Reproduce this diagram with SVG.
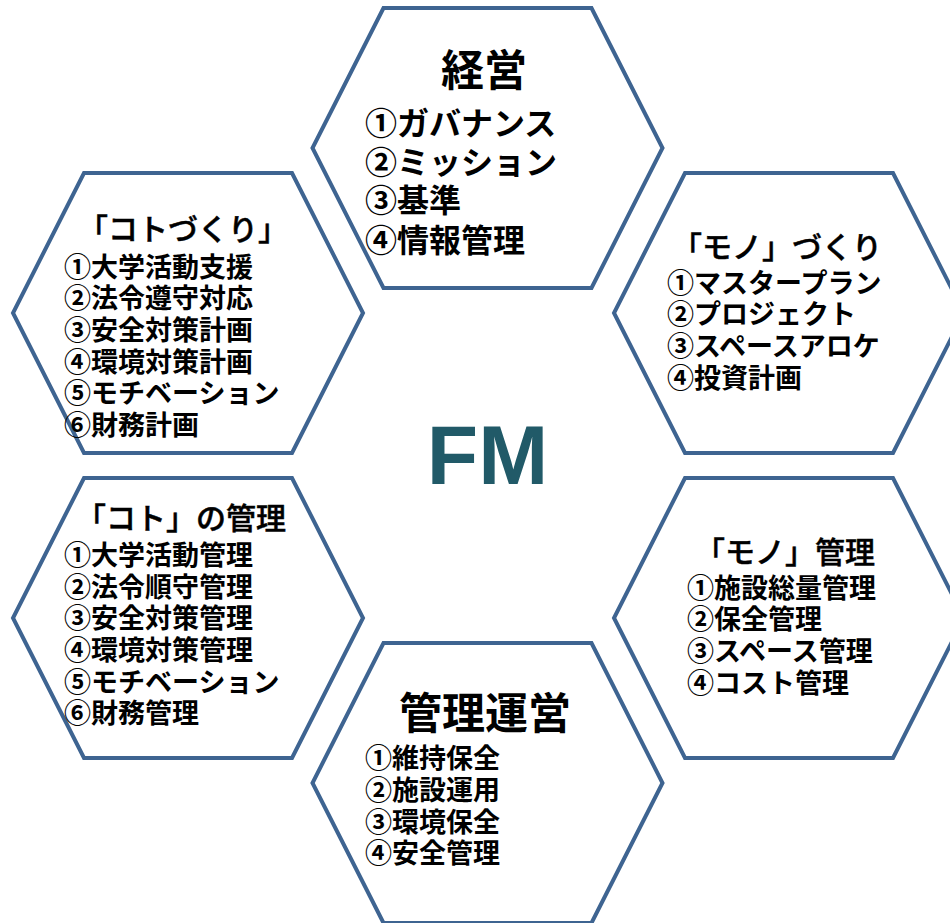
<svg xmlns="http://www.w3.org/2000/svg" width="950" height="923" viewBox="0 0 950 923">
<style>
.hex{fill:#fff;stroke:#3E6491;stroke-width:4;stroke-linejoin:miter}
text{font-family:"Noto Sans CJK JP","Noto Sans",sans-serif;fill:#000}
.big{font-size:43px;font-weight:700}
.ttl{font-size:30px;font-weight:500;stroke:#000;stroke-width:0.5}
.it{font-size:27px;font-weight:700}
.it2{font-size:32px;font-weight:700}
.fm{font-family:"Liberation Sans",Arial,sans-serif;font-size:84px;font-weight:700;fill:#215A68}
</style>
<defs>
<polygon id="hx" points="-104,-140 104,-140 175,0 104,140 -104,140 -175,0"/>
</defs>
<rect width="950" height="923" fill="#fff"/>
<g id="connectors"></g>
<g id="keiei">
<use href="#hx" class="hex" x="487.5" y="148"/>
<text class="big" x="484" y="86" text-anchor="middle">経営</text>
<text class="it2" x="365" y="135">①ガバナンス</text>
<text class="it2" x="365" y="174">②ミッション</text>
<text class="it2" x="365" y="212">③基準</text>
<text class="it2" x="365" y="252">④情報管理</text>
</g>
<g id="kotozukuri">
<use href="#hx" class="hex" x="188" y="313"/>
<text class="ttl" x="78" y="240">「コトづくり」</text>
<text class="it" x="64" y="277">①大学活動支援</text>
<text class="it" x="64" y="308">②法令遵守対応</text>
<text class="it" x="64" y="340">③安全対策計画</text>
<text class="it" x="64" y="372">④環境対策計画</text>
<text class="it" x="64" y="403">⑤モチベーション</text>
<text class="it" x="64" y="435">⑥財務計画</text>
</g>
<g id="monozukuri">
<use href="#hx" class="hex" x="789" y="313"/>
<text class="ttl" x="672" y="258">「モノ」づくり</text>
<text class="it" x="667" y="293">①マスタープラン</text>
<text class="it" x="667" y="324">②プロジェクト</text>
<text class="it" x="667" y="356">③スペースアロケ</text>
<text class="it" x="667" y="388">④投資計画</text>
</g>
<g id="koto-kanri">
<use href="#hx" class="hex" x="188" y="618"/>
<text class="ttl" x="76" y="529">「コト」の管理</text>
<text class="it" x="64" y="565">①大学活動管理</text>
<text class="it" x="64" y="597">②法令順守管理</text>
<text class="it" x="64" y="628">③安全対策管理</text>
<text class="it" x="64" y="660">④環境対策管理</text>
<text class="it" x="64" y="692">⑤モチベーション</text>
<text class="it" x="64" y="723">⑥財務管理</text>
</g>
<g id="mono-kanri">
<use href="#hx" class="hex" x="789" y="618"/>
<text class="ttl" x="695" y="563">「モノ」管理</text>
<text class="it" x="687" y="598">①施設総量管理</text>
<text class="it" x="687" y="629">②保全管理</text>
<text class="it" x="687" y="661">③スペース管理</text>
<text class="it" x="687" y="693">④コスト管理</text>
</g>
<g id="kanri-unei">
<use href="#hx" class="hex" x="487.5" y="783"/>
<text class="big" x="485" y="729" text-anchor="middle">管理運営</text>
<text class="it" x="365" y="768">①維持保全</text>
<text class="it" x="365" y="800">②施設運用</text>
<text class="it" x="365" y="832">③環境保全</text>
<text class="it" x="365" y="863">④安全管理</text>
</g>
<g id="fm">
<text class="fm" x="487.5" y="484" text-anchor="middle">FM</text>
</g>
</svg>
